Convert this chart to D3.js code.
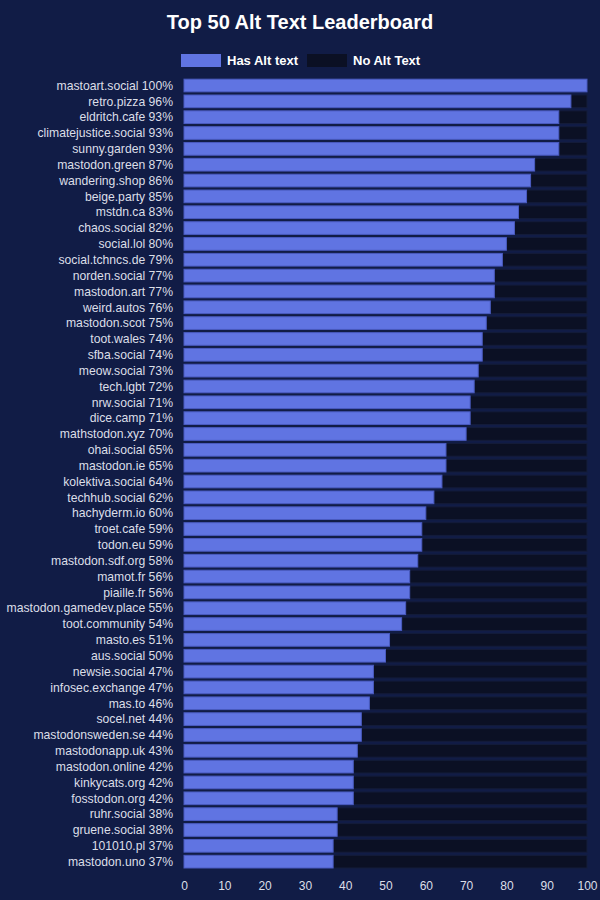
<!DOCTYPE html>
<html>
<head>
<meta charset="utf-8">
<script src="https://cdn.jsdelivr.net/npm/d3@7"></script>
<style>
  body { margin: 0; background: #111c46; }
  svg { display: block; font-family: "Liberation Sans", Arial, sans-serif; }
</style>
</head>
<body>
<div id="chart"></div>
<script>
// instance names and share of posts with alt text (percent)
const instances = [
  "mastoart.social", "retro.pizza", "eldritch.cafe", "climatejustice.social", "sunny.garden",
  "mastodon.green", "wandering.shop", "beige.party", "mstdn.ca", "chaos.social",
  "social.lol", "social.tchncs.de", "norden.social", "mastodon.art", "weird.autos",
  "mastodon.scot", "toot.wales", "sfba.social", "meow.social", "tech.lgbt",
  "nrw.social", "dice.camp", "mathstodon.xyz", "ohai.social", "mastodon.ie",
  "kolektiva.social", "techhub.social", "hachyderm.io", "troet.cafe", "todon.eu",
  "mastodon.sdf.org", "mamot.fr", "piaille.fr", "mastodon.gamedev.place", "toot.community",
  "masto.es", "aus.social", "newsie.social", "infosec.exchange", "mas.to",
  "socel.net", "mastodonsweden.se", "mastodonapp.uk", "mastodon.online", "kinkycats.org",
  "fosstodon.org", "ruhr.social", "gruene.social", "101010.pl", "mastodon.uno"
];
const hasAlt = [
  100, 96, 93, 93, 93,
  87, 86, 85, 83, 82,
  80, 79, 77, 77, 76,
  75, 74, 74, 73, 72,
  71, 71, 70, 65, 65,
  64, 62, 60, 59, 59,
  58, 56, 56, 55, 54,
  51, 50, 47, 47, 46,
  44, 44, 43, 42, 42,
  42, 38, 38, 37, 37
];
const xTicks = [0, 10, 20, 30, 40, 50, 60, 70, 80, 90, 100];
const seriesNames = ["Has Alt text", "No Alt Text"];

const width = 600, height = 900;
const colors = { has: "#6074e2", hasStroke: "#4a5bc0", no: "#0b1024", noStroke: "#141c3a" };

const svg = d3.select("#chart").append("svg")
  .attr("width", width)
  .attr("height", height);

svg.append("rect").attr("width", width).attr("height", height).attr("fill", "#111c46");

svg.append("text")
  .attr("x", width / 2)
  .attr("y", 29)
  .attr("text-anchor", "middle")
  .attr("fill", "#ffffff")
  .attr("font-size", 20)
  .attr("font-weight", "bold")
  .text("Top 50 Alt Text Leaderboard");

// legend
const legend = svg.append("g");
const legendX = [181, 307];
seriesNames.forEach((name, i) => {
  legend.append("rect")
    .attr("x", legendX[i]).attr("y", 54)
    .attr("width", 40).attr("height", 13)
    .attr("fill", i === 0 ? colors.has : colors.no);
  legend.append("text")
    .attr("x", legendX[i] + 46).attr("y", 65)
    .attr("fill", "#ffffff")
    .attr("font-size", 13)
    .attr("font-weight", "bold")
    .text(name);
});

const x = d3.scaleLinear().domain([0, 100]).range([184, 587]);
const y = d3.scaleBand()
  .domain(instances)
  .range([76, 76 + 15.84 * 50.2])
  .padding(0.2);

const rows = svg.append("g").selectAll("g")
  .data(instances)
  .join("g");

// "no alt" remainder part
rows.append("rect")
  .attr("x", (d, i) => x(hasAlt[i]))
  .attr("y", d => y(d))
  .attr("width", (d, i) => x(100) - x(hasAlt[i]))
  .attr("height", y.bandwidth())
  .attr("fill", colors.no)
  .attr("stroke", colors.noStroke)
  .attr("stroke-width", 1);

rows.append("rect")
  .attr("x", x(0))
  .attr("y", d => y(d))
  .attr("width", (d, i) => x(hasAlt[i]) - x(0))
  .attr("height", y.bandwidth())
  .attr("fill", colors.has)
  .attr("stroke", colors.hasStroke)
  .attr("stroke-width", 1);

rows.append("text")
  .attr("x", 173)
  .attr("y", d => y(d) + y.bandwidth() / 2)
  .attr("dy", "0.35em")
  .attr("text-anchor", "end")
  .attr("fill", "#dcdfe8")
  .attr("font-size", 12.2)
  .text((d, i) => `${d} ${hasAlt[i]}%`);

// x axis, no line
const xAxis = svg.append("g")
  .attr("transform", "translate(0,877)")
  .call(d3.axisBottom(x).tickValues(xTicks).tickSize(0).tickPadding(4));
xAxis.select(".domain").remove();
xAxis.selectAll("text")
  .attr("fill", "#dcdfe8")
  .attr("font-size", 12)
  .attr("font-family", "\"Liberation Sans\", Arial, sans-serif");
</script>
</body>
</html>
